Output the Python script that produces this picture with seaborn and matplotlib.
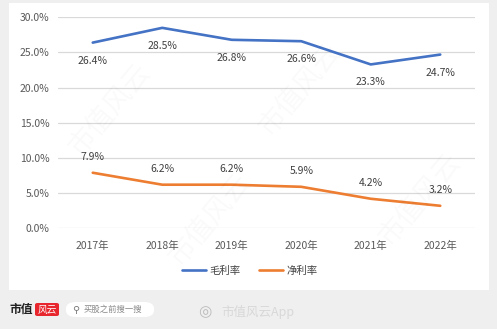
import matplotlib
matplotlib.use("Agg")
import matplotlib.pyplot as plt
import seaborn as sns
import pandas as pd
from matplotlib.patches import Rectangle, FancyBboxPatch
from matplotlib.lines import Line2D

years = ["2017年", "2018年", "2019年", "2020年", "2021年", "2022年"]
gross = [26.4, 28.5, 26.8, 26.6, 23.3, 24.7]
net = [7.9, 6.2, 6.2, 5.9, 4.2, 3.2]
series_names = ["毛利率", "净利率"]
yticks = [0, 5, 10, 15, 20, 25, 30]

sns.set_theme(style="white")
plt.rcParams['font.family'] = ['Noto Sans CJK SC', 'DejaVu Sans']

df = pd.DataFrame({
    "year": years * 2,
    "x": list(range(len(years))) * 2,
    "value": gross + net,
    "series": [series_names[0]] * len(years) + [series_names[1]] * len(years),
})

W, H = 497, 329
fig = plt.figure(figsize=(W / 100, H / 100), dpi=100)
fig.patch.set_facecolor("#efefef")

# white panel
fig.add_artist(Rectangle((9 / W, 1 - 290 / H), (489 - 9) / W, (290 - 3) / H,
                         transform=fig.transFigure, facecolor="white", edgecolor="none", zorder=0))

ax = fig.add_axes([58 / W, 1 - 228.3 / H, (475 - 58) / W, (228.3 - 17.3) / H])
ax.set_facecolor("none")
palette = {"毛利率": "#4472C4", "净利率": "#ED7D31"}
sns.lineplot(data=df, x="x", y="value", hue="series", palette=palette, ax=ax,
             linewidth=1.9, legend=False, sort=False)

ax.set_xlim(-0.5, len(years) - 0.5)
ax.set_ylim(0, 30)
ax.set_yticks(yticks)
ax.set_yticklabels([f"{v:.1f}%" for v in yticks], color="#595959", fontsize=7.5)
ax.set_xticks(range(len(years)))
ax.set_xticklabels(years, color="#595959", fontsize=7.5)
ax.tick_params(axis="y", length=0, pad=6)
ax.tick_params(axis="x", length=0, pad=9)
ax.grid(axis="y", color="#d9d9d9", linewidth=0.9)
ax.grid(axis="x", visible=False)
for s in ax.spines.values():
    s.set_visible(False)
ax.set_xlabel("")
ax.set_ylabel("")

for i, v in enumerate(gross):
    ax.annotate(f"{v}%", (i, v), xytext=(0, -13), textcoords="offset points",
                ha="center", va="center", fontsize=7.5, color="#404040")
for i, v in enumerate(net):
    ax.annotate(f"{v}%", (i, v), xytext=(0, 11.5), textcoords="offset points",
                ha="center", va="center", fontsize=7.5, color="#404040")

# legend
handles = [Line2D([0], [0], color=palette[n], linewidth=1.9) for n in series_names]
fig.legend(handles, series_names, loc="center", bbox_to_anchor=(250 / W, 1 - 271 / H),
           ncol=2, frameon=False, fontsize=7.5, handlelength=2.3, columnspacing=1.8,
           handletextpad=0.3, labelcolor="#404040")

# faint watermarks
for (wx, wy) in [(110, 110), (300, 90), (210, 220), (420, 200)]:
    fig.text(wx / W, 1 - wy / H, "市值风云", rotation=50, fontsize=20, color="#000000",
             alpha=0.025, ha="center", va="center", zorder=5)

# bottom bar
fig.text(10 / W, 1 - 309 / H, "市值", fontsize=8.5, fontweight="bold", color="#222222",
         ha="left", va="center")
fig.add_artist(FancyBboxPatch((35 / W, 1 - 316 / H), 24 / W, 13 / H,
                              boxstyle="round,pad=0,rounding_size=0.005",
                              transform=fig.transFigure, facecolor="#e8262d", edgecolor="none"))
fig.text(47 / W, 1 - 309.5 / H, "风云", fontsize=7, color="white", ha="center", va="center",
         style="italic")
fig.add_artist(FancyBboxPatch((66 / W, 1 - 317 / H), 88 / W, 15 / H,
                              boxstyle="round,pad=0,rounding_size=0.02",
                              transform=fig.transFigure, facecolor="white", edgecolor="none"))
fig.text(72 / W, 1 - 309.5 / H, "⚲", fontsize=7, color="#777777", ha="left", va="center",
         family=["DejaVu Sans"])
fig.text(84 / W, 1 - 309.5 / H, "买股之前搜一搜", fontsize=6, color="#888888", ha="left",
         va="center")
fig.text(205 / W, 1 - 312 / H, "◎", fontsize=11, color="#bbbbbb", ha="center", va="center",
         family=["DejaVu Sans"])
fig.text(221 / W, 1 - 312 / H, "市值风云App", fontsize=9, color="#d8d8d8", ha="left",
         va="center")

fig.savefig("out.png", dpi=100, facecolor=fig.get_facecolor())
